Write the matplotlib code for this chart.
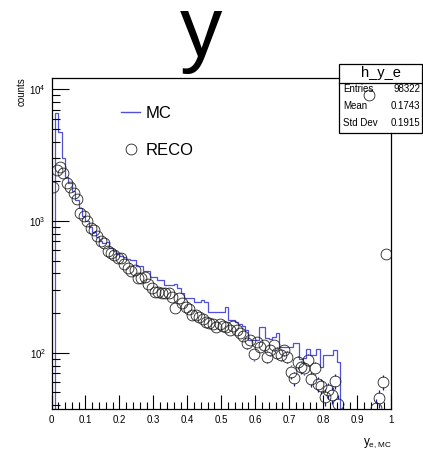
import numpy as np
import matplotlib
matplotlib.use("Agg")
import matplotlib.pyplot as plt
from matplotlib.lines import Line2D
from matplotlib.patches import Rectangle
from matplotlib.ticker import FixedLocator, LogLocator, NullFormatter

plt.rcParams['font.family'] = ['Liberation Sans', 'DejaVu Sans']
plt.rcParams['mathtext.default'] = 'regular'

# ---------------- data (100 bins on [0,1]) ----------------
bin_edges = np.linspace(0.0, 1.0, 101)

mc_counts = [
    0, 6580, 4700, 3000, 2170, 1950, 1700, 1450, 1250, 1100,
    1000, 900, 830, 760, 710, 680, 690, 620, 590, 560,
    540, 530, 515, 506, 506, 455, 455, 420, 420, 378,
    378, 356, 356, 327, 327, 327, 330, 312, 284, 260,
    260, 260, 244, 244, 250, 244, 205, 205, 205, 205,
    205, 223, 177, 177, 170, 165, 160, 150, 125, 125,
    125, 157, 157, 130, 128, 131, 140, 111, 111, 111,
    111, 118, 118, 90, 92, 107, 96, 96, 107, 78,
    96, 96, 96, 104, 85, 0, 0, 0, 0, 0,
    0, 0, 0, 0, 0, 0, 0, 0, 0, 0,
]

reco_counts = [
    1800, 2420, 2560, 2300, 1950, 1800, 1620, 1480, 1150, 1100,
    1000, 890, 850, 775, 710, 680, 595, 575, 550, 520,
    520, 470, 442, 420, 425, 367, 370, 375, 330, 310,
    290, 290, 282, 282, 282, 265, 217, 259, 240, 224,
    215, 193, 195, 188, 180, 172, 167, 165, 157, 165,
    160, 158, 150, 160, 150, 140, 135, 118, 125, 97,
    120, 111, 115, 93, 105, 114, 100, 96, 105, 93,
    72, 64, 85, 78, 76, 88, 63, 76, 58, 56,
    46, 52, 48, 61, 41, 0, 0, 0, 0, 0,
    0, 0, 0, 9000, 0, 38, 45, 60, 561, 0,
]

x_ticks = [0.0, 0.1, 0.2, 0.3, 0.4, 0.5, 0.6, 0.7, 0.8, 0.9, 1.0]
x_ticklabels = ['0', '0.1', '0.2', '0.3', '0.4', '0.5', '0.6', '0.7', '0.8', '0.9', '1']

stats_title = 'h_y_e'
stats_rows = [('Entries', '98322'), ('Mean', '0.1743'), ('Std Dev', '0.1915')]

# ---------------- figure ----------------
W, H = 423, 450
fig = plt.figure(figsize=(W / 100, H / 100), dpi=100)
fig.patch.set_facecolor('white')

axL, axR, axT, axB = 51.5, 391.0, 78.0, 409.0
ax = fig.add_axes([axL / W, 1 - axB / H, (axR - axL) / W, (axB - axT) / H])
ax.set_facecolor('none')
ax.set_yscale('log')
ax.set_xlim(0, 1)
ax.set_ylim(37.4, 12180)

mc = np.array(mc_counts, dtype=float)
reco = np.array(reco_counts, dtype=float)
centers = 0.5 * (bin_edges[:-1] + bin_edges[1:])

# MC histogram outline
mc_plot = np.where(mc > 0, mc, 1.0)
ax.stairs(mc_plot, bin_edges, color='#5050d8', lw=0.9, baseline=None)

# RECO points with error bars outside the hollow marker
sel = reco > 0
xr, yr = centers[sel], reco[sel]
err = np.sqrt(yr)
f = 10 ** (5.2 / 131.7)
up_lo, up_hi = yr * f, yr + err
dn_hi, dn_lo = yr / f, yr - err
m_up = up_hi > up_lo
m_dn = dn_lo < dn_hi
ax.vlines(xr[m_up], up_lo[m_up], up_hi[m_up], color='#1c1c9a', lw=0.9)
ax.vlines(xr[m_dn], dn_lo[m_dn], dn_hi[m_dn], color='#1c1c9a', lw=0.9)
ax.plot(xr, yr, ls='none', marker='o', ms=7.8, mfc='none', mec='#222222', mew=0.6)

# ticks
ax.xaxis.set_major_locator(FixedLocator(x_ticks))
ax.set_xticklabels(x_ticklabels)
ax.xaxis.set_minor_locator(FixedLocator(np.arange(0, 1.0001, 0.02)))
ax.yaxis.set_major_locator(LogLocator(base=10, numticks=10))
ax.yaxis.set_minor_locator(LogLocator(base=10, subs=np.arange(2, 10), numticks=20))
ax.yaxis.set_minor_formatter(NullFormatter())
ax.tick_params(which='both', direction='in', top=False, right=False, labelsize=7, pad=4, width=0.8)
ax.tick_params(axis='x', which='major', length=10)
ax.tick_params(axis='x', which='minor', length=5)
ax.tick_params(axis='y', which='major', length=12)
ax.tick_params(axis='y', which='minor', length=6)

# frame: top and right partially hidden by stats box
box_l, box_t, box_r, box_b = 339.0, 64.0, 422.0, 133.0
for s in ['top', 'right']:
    ax.spines[s].set_visible(False)
for s in ['left', 'bottom']:
    ax.spines[s].set_linewidth(0.9)
fx = (box_l - axL) / (axR - axL)
fy = (axB - box_b) / (axB - axT)
ax.plot([0, fx], [1, 1], transform=ax.transAxes, color='k', lw=0.9, clip_on=False)
ax.plot([1, 1], [0, fy], transform=ax.transAxes, color='k', lw=0.9, clip_on=False)

# legend
handles = [Line2D([], [], color='#5050d8', lw=1.0),
           Line2D([], [], ls='none', marker='o', ms=7.8, mfc='none', mec='#222222', mew=0.6)]
ax.legend(handles, ['MC', 'RECO'], loc='upper left',
          bbox_to_anchor=(121 / W, 1 - 106 / H), bbox_transform=fig.transFigure,
          frameon=False, fontsize=12, handlelength=1.15, handletextpad=0.35,
          labelspacing=1.3, borderpad=0, borderaxespad=0)

# title
fig.text(201 / W, 1 - 56 / H, 'y', fontsize=61, ha='center', va='baseline')

# axis labels
fig.text(22 / W, 1 - 77 / H, 'counts', rotation=90, ha='center', va='top', fontsize=7)
fig.text(392 / W, 1 - 443 / H, '$y_{e,MC}$', ha='right', va='center', fontsize=8.5)

# stats box
rect = Rectangle((box_l / W, 1 - box_b / H), (box_r - box_l) / W, (box_b - box_t) / H,
                 transform=fig.transFigure, facecolor='white', edgecolor='black', lw=0.9, zorder=-1)
fig.add_artist(rect)
sep_y = 1 - 83 / H
fig.add_artist(Line2D([box_l / W, box_r / W], [sep_y, sep_y], transform=fig.transFigure,
                      color='black', lw=0.9, zorder=-1))
fig.text((box_l + box_r) / 2 / W, 1 - 73 / H, stats_title, ha='center', va='center', fontsize=10.5)
row_y = [89, 106, 123]
for (lab, val), yy in zip(stats_rows, row_y):
    fig.text((box_l + 4) / W, 1 - yy / H, lab, ha='left', va='center', fontsize=7)
    fig.text((box_r - 1.5) / W, 1 - yy / H, val, ha='right', va='center', fontsize=7)

fig.savefig('out.png', dpi=100)
